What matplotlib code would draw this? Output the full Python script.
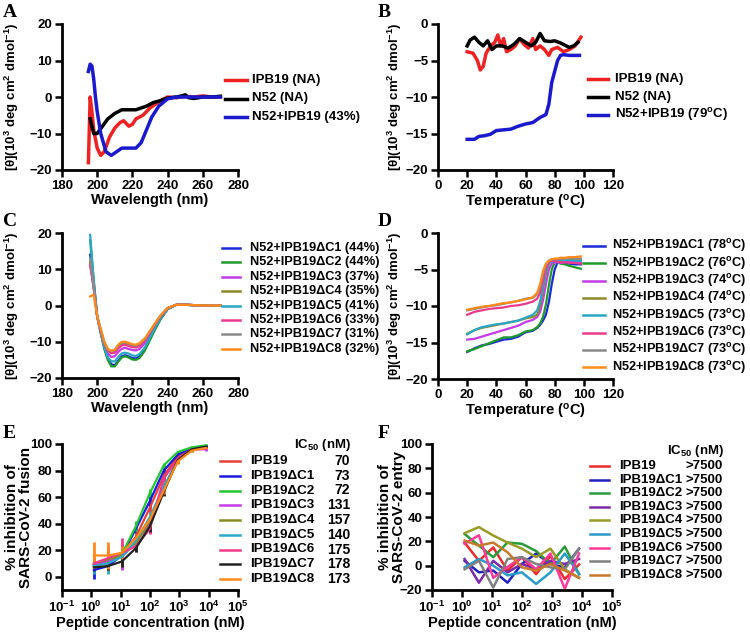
import numpy as np
import matplotlib
matplotlib.use("Agg")
import matplotlib.pyplot as plt
from matplotlib.lines import Line2D

plt.rcParams['font.family'] = ['Liberation Sans', 'DejaVu Sans']
plt.rcParams['font.weight'] = 'bold'
plt.rcParams['axes.labelweight'] = 'bold'
plt.rcParams['mathtext.default'] = 'regular'

# ---- panel A: CD spectra ----
wl_ipb19 = [195, 196, 197, 198, 200, 202, 204, 207, 210, 213, 215, 217, 218, 220, 222, 224, 226, 228, 230, 233, 236, 240, 245, 250, 255, 260, 265, 270]
cd_ipb19 = [-18, 0, -4, -9, -14, -16, -15, -11, -8.5, -7, -6.5, -7.5, -8, -7.5, -6, -5.5, -5, -4, -3, -2, -1, 0, -0.2, 0.2, 0, 0.3, 0, 0]
wl_n52 = [196, 197, 198, 200, 203, 206, 210, 214, 218, 222, 225, 228, 232, 236, 240, 245, 248, 250, 252, 255, 260, 265, 270]
cd_n52 = [-6, -8, -10, -10, -8, -6, -4.5, -3.5, -3.5, -3.5, -3, -2.5, -1.5, -1, -0.3, 0, 0.3, 0.6, -0.2, -0.4, 0, 0, 0.2]
wl_mix = [195, 196, 197, 198, 199, 200, 202, 205, 208, 211, 214, 218, 222, 225, 228, 231, 235, 240, 245, 250, 260, 270]
cd_mix = [7, 9, 8.5, 5, 0, -4, -10, -15, -16, -15, -14, -14, -14, -12.5, -9, -5.5, -2.5, -0.5, 0, 0, 0, 0]
labels_ab_a = ['IPB19 (NA)', 'N52 (NA)', 'N52+IPB19 (43%)']
colors_ab = ['#ee2222', '#000000', '#1a1acc']

# ---- panel B: thermal melts ----
t_ipb19 = [20, 24, 27, 29, 31, 33, 36, 39, 41, 43, 45, 47, 50, 53, 56, 59, 62, 65, 67, 70, 73, 76, 78, 82, 86, 90, 94, 98]
th_ipb19 = [-3.8, -4, -5, -6.3, -5.8, -4, -3, -2.5, -1.5, -3, -2, -3.8, -3.5, -3, -2, -2.8, -3.3, -2, -3.5, -3, -3.5, -4.3, -3.5, -3.2, -3.8, -3.5, -3, -1.8]
t_n52 = [20, 22, 25, 28, 31, 34, 37, 40, 44, 48, 52, 56, 60, 64, 67, 70, 73, 77, 80, 84, 88, 90, 93, 96]
th_n52 = [-3, -2.2, -1.8, -2.5, -3, -2.3, -3.5, -3, -3, -3.3, -2.8, -2, -2.5, -3, -2.5, -1.3, -2.3, -2.4, -2.3, -2.6, -3, -3.2, -3, -2.5]
t_mix = [20, 25, 28, 32, 36, 40, 45, 50, 55, 60, 65, 70, 74, 76, 78, 80, 82, 84, 86, 90, 95, 97]
th_mix = [-15.8, -15.8, -15.4, -15.3, -15.1, -14.6, -14.5, -14.4, -14, -13.7, -13.5, -12.8, -12.4, -11, -8, -6.5, -5, -4.3, -4.2, -4.3, -4.3, -4.3]
labels_ab_b = ['IPB19 (NA)', 'N52 (NA)', 'N52+IPB19 (79$^{o}$C)']

# ---- panel C: truncated peptides, CD spectra ----
wl_c = [196, 198, 200, 202, 204, 206, 208, 210, 212, 214, 216, 218, 220, 222, 224, 227, 230, 233, 236, 240, 245, 250, 260, 270]
cd_c1 = [14, 6, -3, -7.5, -11.5, -14.5, -16.2, -16.5, -15.2, -14, -13.7, -14.1, -14.5, -14.6, -14.1, -12.2, -9.2, -6.3, -3.7, -1.0, 0.2, 0.2, 0, 0]
cd_c2 = [18, 7, -3, -7.5, -12, -15, -16.8, -16.8, -15.5, -14.3, -14.0, -14.4, -14.9, -15.0, -14.5, -12.5, -9.5, -6.5, -3.8, -1.0, 0.2, 0.2, 0, 0]
cd_c3 = [12, 5, -3, -7, -11, -13.3, -14.2, -14.0, -12.8, -11.9, -11.7, -12.0, -12.3, -12.4, -12.0, -10.4, -7.9, -5.4, -3.2, -0.8, 0.2, 0.2, 0, 0]
cd_c4 = [12, 5, -3, -7, -10.5, -12.3, -13.0, -12.8, -11.5, -10.7, -10.6, -10.9, -11.2, -11.3, -10.9, -9.5, -7.3, -5.0, -2.9, -0.7, 0.2, 0.2, 0, 0]
cd_c5 = [19.5, 7, -3, -7.5, -11.5, -14.3, -15.4, -15.4, -14.2, -13.2, -13, -13.3, -13.8, -13.9, -13.4, -11.6, -8.8, -6, -3.5, -0.9, 0.2, 0.2, 0, 0]
cd_c6 = [11, 5, -3, -7, -10.5, -12.5, -13.2, -13, -11.8, -11.0, -10.9, -11.2, -11.5, -11.6, -11.2, -9.8, -7.5, -5.2, -3.0, -0.8, 0.2, 0.2, 0, 0]
cd_c7 = [13, 5, -3, -6.5, -10, -12, -12.6, -12.3, -11, -10.3, -10.2, -10.5, -10.9, -11, -10.6, -9.3, -7.2, -4.9, -2.8, -0.7, 0.2, 0.2, 0, 0]
cd_c8 = [2.5, 3, -3, -6.5, -10, -12, -12.5, -12.2, -10.8, -10.0, -10.0, -10.3, -10.7, -10.8, -10.4, -9.1, -7.0, -4.8, -2.7, -0.7, 0.2, 0.2, 0, 0]
labels_c = ['N52+IPB19ΔC1 (44%)', 'N52+IPB19ΔC2 (44%)', 'N52+IPB19ΔC3 (37%)', 'N52+IPB19ΔC4 (35%)',
            'N52+IPB19ΔC5 (41%)', 'N52+IPB19ΔC6 (33%)', 'N52+IPB19ΔC7 (31%)', 'N52+IPB19ΔC8 (32%)']

# ---- panel D: truncated peptides, thermal melts ----
t_d = [20, 25, 30, 35, 40, 45, 50, 55, 60, 65, 68, 70, 72, 74, 76, 78, 80, 82, 84, 87, 90, 94, 98]
th_c1 = [-16.3, -15.8, -15.4, -15.2, -14.9, -14.6, -14.5, -14.2, -13.6, -13.4, -13.0, -12.6, -12.0, -11.2, -9.5, -7.0, -5.0, -4.0, -3.9, -4.1, -4.2, -4.3, -4.3]
th_c2 = [-16.2, -15.9, -15.5, -15.1, -14.7, -14.3, -14.3, -14.0, -13.5, -13.3, -12.9, -12.4, -11.5, -9.8, -7.2, -5.0, -4.0, -4.0, -4.2, -4.3, -4.5, -4.7, -4.9]
th_c3 = [-14.6, -14.5, -14.2, -13.9, -13.6, -13.3, -13.0, -12.7, -12.2, -11.9, -11.5, -10.8, -9.2, -7.0, -5.0, -4.2, -4.0, -4.0, -4.1, -4.0, -3.9, -3.9, -4.0]
th_c4 = [-13.8, -13.3, -13.0, -12.8, -12.6, -12.4, -12.2, -12.0, -11.7, -11.5, -11.2, -10.0, -7.8, -5.6, -4.3, -3.8, -3.6, -3.6, -3.6, -3.5, -3.5, -3.6, -3.6]
th_c5 = [-13.9, -13.3, -12.9, -12.7, -12.5, -12.4, -12.2, -12.0, -11.6, -11.2, -10.6, -9.4, -7.4, -5.3, -4.2, -3.9, -3.8, -3.8, -3.8, -3.8, -3.7, -3.8, -3.8]
th_c6 = [-11.2, -10.8, -10.6, -10.4, -10.3, -10.2, -10.0, -9.9, -9.7, -9.4, -9.0, -8.2, -6.5, -4.8, -4.0, -3.8, -3.8, -3.9, -4.0, -4.0, -4.1, -4.1, -4.2]
th_c7 = [-10.6, -10.4, -10.2, -10.0, -9.9, -9.7, -9.5, -9.3, -9.0, -8.9, -8.4, -7.4, -5.6, -4.3, -3.8, -3.6, -3.6, -3.6, -3.5, -3.5, -3.5, -3.5, -3.5]
th_c8 = [-10.5, -10.3, -10.1, -10.0, -9.8, -9.6, -9.5, -9.3, -9.1, -8.8, -8.2, -7.0, -5.2, -4.2, -3.8, -3.6, -3.5, -3.5, -3.4, -3.4, -3.3, -3.3, -3.2]
labels_d = ['N52+IPB19ΔC1 (78$^{o}$C)', 'N52+IPB19ΔC2 (76$^{o}$C)', 'N52+IPB19ΔC3 (74$^{o}$C)', 'N52+IPB19ΔC4 (74$^{o}$C)',
            'N52+IPB19ΔC5 (73$^{o}$C)', 'N52+IPB19ΔC6 (73$^{o}$C)', 'N52+IPB19ΔC7 (73$^{o}$C)', 'N52+IPB19ΔC8 (73$^{o}$C)']
colors_cd = ['#1a2ad8', '#1f9a2a', '#c23be6', '#8c8a2a', '#2aa6c8', '#ec3a8c', '#8a8a8a', '#ff8a1a']

# ---- panel E: cell fusion inhibition ----
conc = [1.22, 3.66, 11, 32.9, 98.8, 296, 889, 2667, 8000]
names_ef = ['IPB19', 'IPB19ΔC1', 'IPB19ΔC2', 'IPB19ΔC3', 'IPB19ΔC4', 'IPB19ΔC5', 'IPB19ΔC6', 'IPB19ΔC7', 'IPB19ΔC8']
ic50_e = ['70', '73', '72', '131', '157', '140', '175', '178', '173']
fus_ipb19 = [8, 12, 17, 30, 52, 76, 91, 97, 98]
fus_c1 = [5, 8, 16, 36, 57, 80, 92, 97, 98]
fus_c2 = [9, 10, 17, 38, 63, 84, 94, 97.5, 99]
fus_c3 = [9, 12, 15, 26, 40, 67, 88, 96, 96]
fus_c4 = [10, 13, 16, 25, 42, 66, 88, 95, 98]
fus_c5 = [8, 10, 15, 27, 45, 68, 88, 96, 98]
fus_c6 = [10, 14, 18, 23, 36, 74, 89, 96, 97]
fus_c7 = [7, 8, 11.5, 21.5, 38, 64, 88, 96, 98]
fus_c8 = [16, 16, 18, 29, 43, 65, 87, 95, 97]
err_ipb19 = [4, 4, 4, 5, 5, 4, 2, 1, 1]
err_c1 = [7, 4, 3, 5, 4, 2, 2, 1, 1]
err_c2 = [3, 3, 3, 4, 3, 2, 1, 1, 1]
err_c3 = [4, 4, 10, 3, 5, 3, 2, 1, 1]
err_c4 = [4, 4, 4, 4, 4, 3, 2, 1, 1]
err_c5 = [6, 8, 4, 3, 4, 3, 2, 1, 1]
err_c6 = [5, 9, 11, 4, 4, 3, 2, 1, 1]
err_c7 = [3, 3, 4, 3, 4, 3, 2, 1, 1]
err_c8 = [10, 10, 5, 4, 5, 3, 2, 1, 1]
colors_e = ['#e8403a', '#1a1ae0', '#22c832', '#c83ae8', '#8a8a22', '#2aaac8', '#ee3a88', '#222222', '#ff8a1a']

# ---- panel F: pseudovirus entry inhibition ----
ent_ipb19 = [19, 4, 15, -4, 7, -7, 8, -11, 1]
ent_c1 = [4, -5.5, -4, -14, 1.4, 10, 1.4, -1.4, 14]
ent_c2 = [26, 16.5, 7, 19, 18, 12, 1.4, 15.7, -7]
ent_c3 = [5.5, -14, 4, -5.5, 1.4, -3, 4, 1.4, 5.5]
ent_c4 = [26.7, 31.7, 24.8, 19, 14, 7, 14, -3, -10]
ent_c5 = [-1.4, 5.5, 0, -8, -5.5, -15, -5.5, 10, -7]
ent_c6 = [18, 25, -10, -1, 7, -3, 10, -19, 10]
ent_c7 = [-3, 4, -18, 5.5, 7, 1.4, -1.4, -3, 14]
ent_c8 = [20.6, 16.5, 19, 11, -1.4, -4, 1.4, -4, -10]
ic50_f = ['>7500'] * 9
colors_f = ['#ee2a2a', '#2020c0', '#2a9a3a', '#7a2aa8', '#9a9a28', '#2a9ac8', '#ff3a9a', '#808080', '#c8782a']

W, H = 750, 633
fig = plt.figure(figsize=(W / 100, H / 100), dpi=100)


def px_axes(x0, y0, x1, y1):
    # axes box from pixel corners (top-left origin)
    return fig.add_axes([x0 / W, 1 - y1 / H, (x1 - x0) / W, (y1 - y0) / H])


def style(ax):
    for s in ['top', 'right']:
        ax.spines[s].set_visible(False)
    for s in ['left', 'bottom']:
        ax.spines[s].set_linewidth(2)
    ax.tick_params(width=1.8, length=5, labelsize=9.5, direction='out', pad=2)


def key(x0, x1, xt, y0, dy, labels, colors, fs, lw):
    # hand-placed legend rows (pixel positions, top-left origin)
    for i, (lab, c) in enumerate(zip(labels, colors)):
        y = 1 - (y0 + i * dy) / H
        fig.add_artist(Line2D([x0 / W, x1 / W], [y, y], color=c, lw=lw, transform=fig.transFigure))
        fig.text(xt / W, y, lab, fontsize=fs, va='center')


def ylab_at(ax, right_px, ax_left, ax_w):
    ax.yaxis.set_label_coords((right_px - ax_left) / ax_w, 0.5)


ylab_cd = '[θ](10$^3$ deg cm$^2$ dmol$^{-1}$)'

# A
axA = px_axes(62, 24, 238, 170)
for xs, ys, c in zip([wl_ipb19, wl_n52, wl_mix], [cd_ipb19, cd_n52, cd_mix], colors_ab):
    axA.plot(xs, ys, color=c, lw=2.5)
axA.set_xlim(180, 280)
axA.set_ylim(-20, 20)
axA.set_xticks(range(180, 281, 20))
axA.set_yticks([-20, -10, 0, 10, 20])
axA.set_xlabel('Wavelength (nm)', fontsize=10.5, labelpad=1)
axA.set_ylabel(ylab_cd, fontsize=9.5)
style(axA)
ylab_at(axA, 21, 62, 176)
key(225, 247, 252, 80, 18.5, labels_ab_a, colors_ab, 9.5, 2.5)

# B
axB = px_axes(438, 24, 613, 170)
for xs, ys, c in zip([t_ipb19, t_n52, t_mix], [th_ipb19, th_n52, th_mix], colors_ab):
    axB.plot(xs, ys, color=c, lw=2.5)
axB.set_xlim(0, 120)
axB.set_ylim(-20, 0)
axB.set_xticks(range(0, 121, 20))
axB.set_yticks([-20, -15, -10, -5, 0])
axB.set_xlabel('Temperature ($^{o}$C)', fontsize=10.5, labelpad=1)
axB.set_ylabel(ylab_cd, fontsize=9.5)
style(axB)
ylab_at(axB, 404, 438, 175)
key(588, 608, 615, 79, 18, labels_ab_b, colors_ab, 9.5, 2.5)

# C
axC = px_axes(62, 233, 238, 378)
for ys, c in zip([cd_c1, cd_c2, cd_c3, cd_c4, cd_c5, cd_c6, cd_c7, cd_c8], colors_cd):
    axC.plot(wl_c, ys, color=c, lw=1.6)
axC.set_xlim(180, 280)
axC.set_ylim(-20, 20)
axC.set_xticks(range(180, 281, 20))
axC.set_yticks([-20, -10, 0, 10, 20])
axC.set_xlabel('Wavelength (nm)', fontsize=10.5, labelpad=1)
axC.set_ylabel(ylab_cd, fontsize=9.5)
style(axC)
ylab_at(axC, 21, 62, 176)
key(222, 240, 250, 248, 14.4, labels_c, colors_cd, 9.2, 1.8)

# D
axD = px_axes(438, 233, 613, 379)
for ys, c in zip([th_c1, th_c2, th_c3, th_c4, th_c5, th_c6, th_c7, th_c8], colors_cd):
    axD.plot(t_d, ys, color=c, lw=1.6)
axD.set_xlim(0, 120)
axD.set_ylim(-20, 0)
axD.set_xticks(range(0, 121, 20))
axD.set_yticks([-20, -15, -10, -5, 0])
axD.set_xlabel('Temperature ($^{o}$C)', fontsize=10.5, labelpad=1)
axD.set_ylabel(ylab_cd, fontsize=9.5)
style(axD)
ylab_at(axD, 404, 438, 175)
key(583, 605, 612, 246, 17.3, labels_d, colors_cd, 9.2, 1.8)

dec_ticks = [1e-1, 1e0, 1e1, 1e2, 1e3, 1e4, 1e5]
dec_labels = ['10$^{-1}$', '10$^{0}$', '10$^{1}$', '10$^{2}$', '10$^{3}$', '10$^{4}$', '10$^{5}$']

# E
axE = px_axes(62, 444, 238, 590)
fus = [fus_ipb19, fus_c1, fus_c2, fus_c3, fus_c4, fus_c5, fus_c6, fus_c7, fus_c8]
errs = [err_ipb19, err_c1, err_c2, err_c3, err_c4, err_c5, err_c6, err_c7, err_c8]
for ys, e, c in zip(fus, errs, colors_e):
    axE.errorbar(conc, ys, yerr=e, color=c, lw=1.6, elinewidth=2, capsize=0)
axE.set_xscale('log')
axE.set_xlim(1e-1, 1e5)
axE.set_ylim(-10, 100)
axE.set_xticks(dec_ticks)
axE.set_xticklabels(dec_labels)
axE.xaxis.set_minor_locator(matplotlib.ticker.NullLocator())
axE.set_yticks(range(0, 101, 20))
axE.set_xlabel('Peptide concentration (nM)', fontsize=10.5, labelpad=1)
axE.set_ylabel('% inhibition of\nSARS-CoV-2 fusion', fontsize=11, linespacing=1.0)
style(axE)
ylab_at(axE, 33, 62, 176)
key(220, 240, 250, 461, 14.75, names_ef, colors_e, 9.7, 1.8)
for i, v in enumerate(ic50_e):
    fig.text(350 / W, 1 - (461 + i * 14.75) / H, v, fontsize=10, ha='right', va='center')
fig.text(351 / W, 1 - 445 / H, 'IC$_{50}$ (nM)', fontsize=9.5, ha='right', va='center')

# F
axF = px_axes(432, 444, 612, 590)
ent = [ent_ipb19, ent_c1, ent_c2, ent_c3, ent_c4, ent_c5, ent_c6, ent_c7, ent_c8]
for ys, c in zip(ent, colors_f):
    axF.plot(conc, ys, color=c, lw=1.8)
axF.set_xscale('log')
axF.set_xlim(1e-1, 1e5)
axF.set_ylim(-20, 100)
axF.set_xticks(dec_ticks)
axF.set_xticklabels(dec_labels)
axF.xaxis.set_minor_locator(matplotlib.ticker.NullLocator())
axF.set_yticks(range(-20, 101, 20))
axF.set_xlabel('Peptide concentration (nM)', fontsize=10.5, labelpad=1)
axF.set_ylabel('% inhibition of\nSARS-CoV-2 entry', fontsize=11, linespacing=1.0)
style(axF)
ylab_at(axF, 406, 432, 180)
key(590, 609, 619, 466, 13.6, names_ef, colors_f, 9.5, 1.8)
for i, v in enumerate(ic50_f):
    fig.text(723 / W, 1 - (466 + i * 13.6) / H, v, fontsize=9.5, ha='right', va='center')
fig.text(724 / W, 1 - 451 / H, 'IC$_{50}$ (nM)', fontsize=9.5, ha='right', va='center')

# panel letters
for lab, x, y in [('A', 3, 4), ('B', 378, 4), ('C', 3, 213), ('D', 378, 213), ('E', 3, 425), ('F', 378, 425)]:
    fig.text(x / W, 1 - y / H, lab, family='Liberation Serif', fontsize=14, weight='bold', va='top')

fig.savefig('out.png', dpi=100)
